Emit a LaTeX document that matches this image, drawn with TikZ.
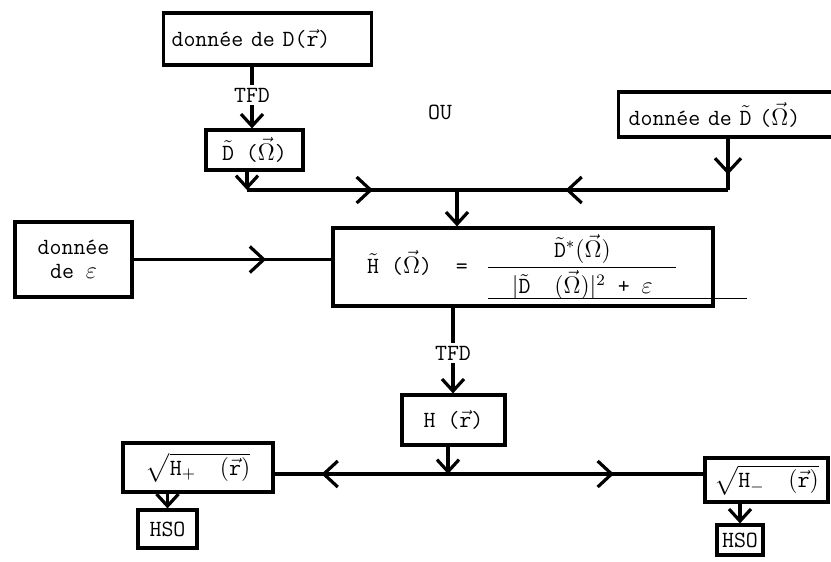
\documentclass[tikz,border=0pt]{standalone}
\usepackage{amsmath}
\usepackage{fontspec}
\usetikzlibrary{arrows.meta,decorations.markings}

\begin{document}
\begin{tikzpicture}[
  x=0.5pt, y=-0.5pt,
  block/.style={draw, line width=1.6pt, inner sep=2pt, align=center, font=\fontsize{11.6}{12}\ttfamily},
  tag/.style={inner sep=1.5pt, font=\fontsize{11.6}{12}\ttfamily},
  link/.style={line width=1.6pt},
  endbarb/.style={-{Straight Barb[length=6pt,width=11pt]}},
  midbarb/.style={postaction={decorate}, decoration={markings, mark=at position #1 with {\arrow{Straight Barb[length=7pt,width=13pt]}}}}
]
\useasboundingbox (0,0) rectangle (831,562);

\node[block, anchor=west, inner xsep=4pt, text width=96pt, align=left, minimum height=26pt] (dr) at (162,39) {donnée de D($\vec{\mathtt{r}}$)};
\node[tag] (tfda) at (252,95) {TFD};
\node[block, minimum width=48.5pt, minimum height=20pt] (dw) at (254.5,150) {$\tilde{\mathtt{D}}$ ($\vec{\Omega}$)};
\node[tag] (ou) at (440,112) {OU};
\node[block, anchor=west, inner xsep=5pt, text width=110pt, align=left, minimum height=22.5pt] (dwin) at (617,114.5) {donnée de $\tilde{\mathtt{D}}$ ($\vec{\Omega}$)};

\node[block, minimum width=58.5pt, minimum height=37.5pt] (eps) at (73.5,259.5) {donnée\\de $\varepsilon$};
\node[block, minimum width=190pt, minimum height=39pt] (hw) at (523,267) {$\tilde{\mathtt{H}}$ ($\vec{\Omega}$)\hspace{12pt}=\hspace{9pt}$\dfrac{\tilde{\mathtt{D}}^{*}(\vec{\Omega})}{\makebox[94pt]{$|\tilde{\mathtt{D}}\ \ (\vec{\Omega})|^{2}$ + $\varepsilon$}}$};
\draw[line width=0.4pt] (488,298) -- (747,298);

\node[tag] (tfdb) at (453,353) {TFD};
\node[block, minimum width=51.5pt, minimum height=25pt] (hr) at (453.5,420) {H ($\vec{\mathtt{r}}$)};
\node[block, minimum width=75pt, minimum height=24.5pt] (hplus) at (198,467.5) {$\sqrt{\mathtt{H}_{+}\ \ (\vec{\mathtt{r}})}$};
\node[block, minimum width=61.5pt, minimum height=22pt] (hminus) at (766.5,480) {$\sqrt{\mathtt{H}_{-}\ \ (\vec{\mathtt{r}})}$};
\node[block, minimum width=29.5pt, minimum height=19pt] (hsoa) at (167.5,529) {HSO};
\node[block, minimum width=23pt, minimum height=15pt, inner sep=1pt] (hsob) at (740,540) {HSO};

\coordinate (jl) at (247,190);
\coordinate (jc) at (457,190);
\coordinate (jr) at (728,190);
\coordinate (jb) at (448,474);

\draw[link] (tfda |- dr.south) -- (tfda);
\draw[link, endbarb] (tfda) -- (tfda |- dw.north);
\draw[link, endbarb] (jl |- dw.south) -- (jl);
\draw[link, midbarb=0.6] (jl) -- (jc);
\draw[link, midbarb=0.7] (jr |- dwin.south) -- (jr);
\draw[link, midbarb=0.6] (jr) -- (jc);
\draw[link, endbarb] (jc) -- (jc |- hw.north);
\draw[link, midbarb=0.67] (eps.east) -- (eps.east -| hw.west);
\draw[link] (tfdb |- hw.south) -- (tfdb);
\draw[link, endbarb] (tfdb) -- (tfdb |- hr.north);
\draw[link, endbarb] (jb |- hr.south) -- (jb);
\draw[link, midbarb=0.73] (jb) -- (jb -| hplus.east);
\draw[link, midbarb=0.65] (jb) -- (jb -| hminus.west);
\draw[link, endbarb] (hsoa |- hplus.south) -- (hsoa);
\draw[link, endbarb] (hsob |- hminus.south) -- (hsob);
\end{tikzpicture}
\end{document}
